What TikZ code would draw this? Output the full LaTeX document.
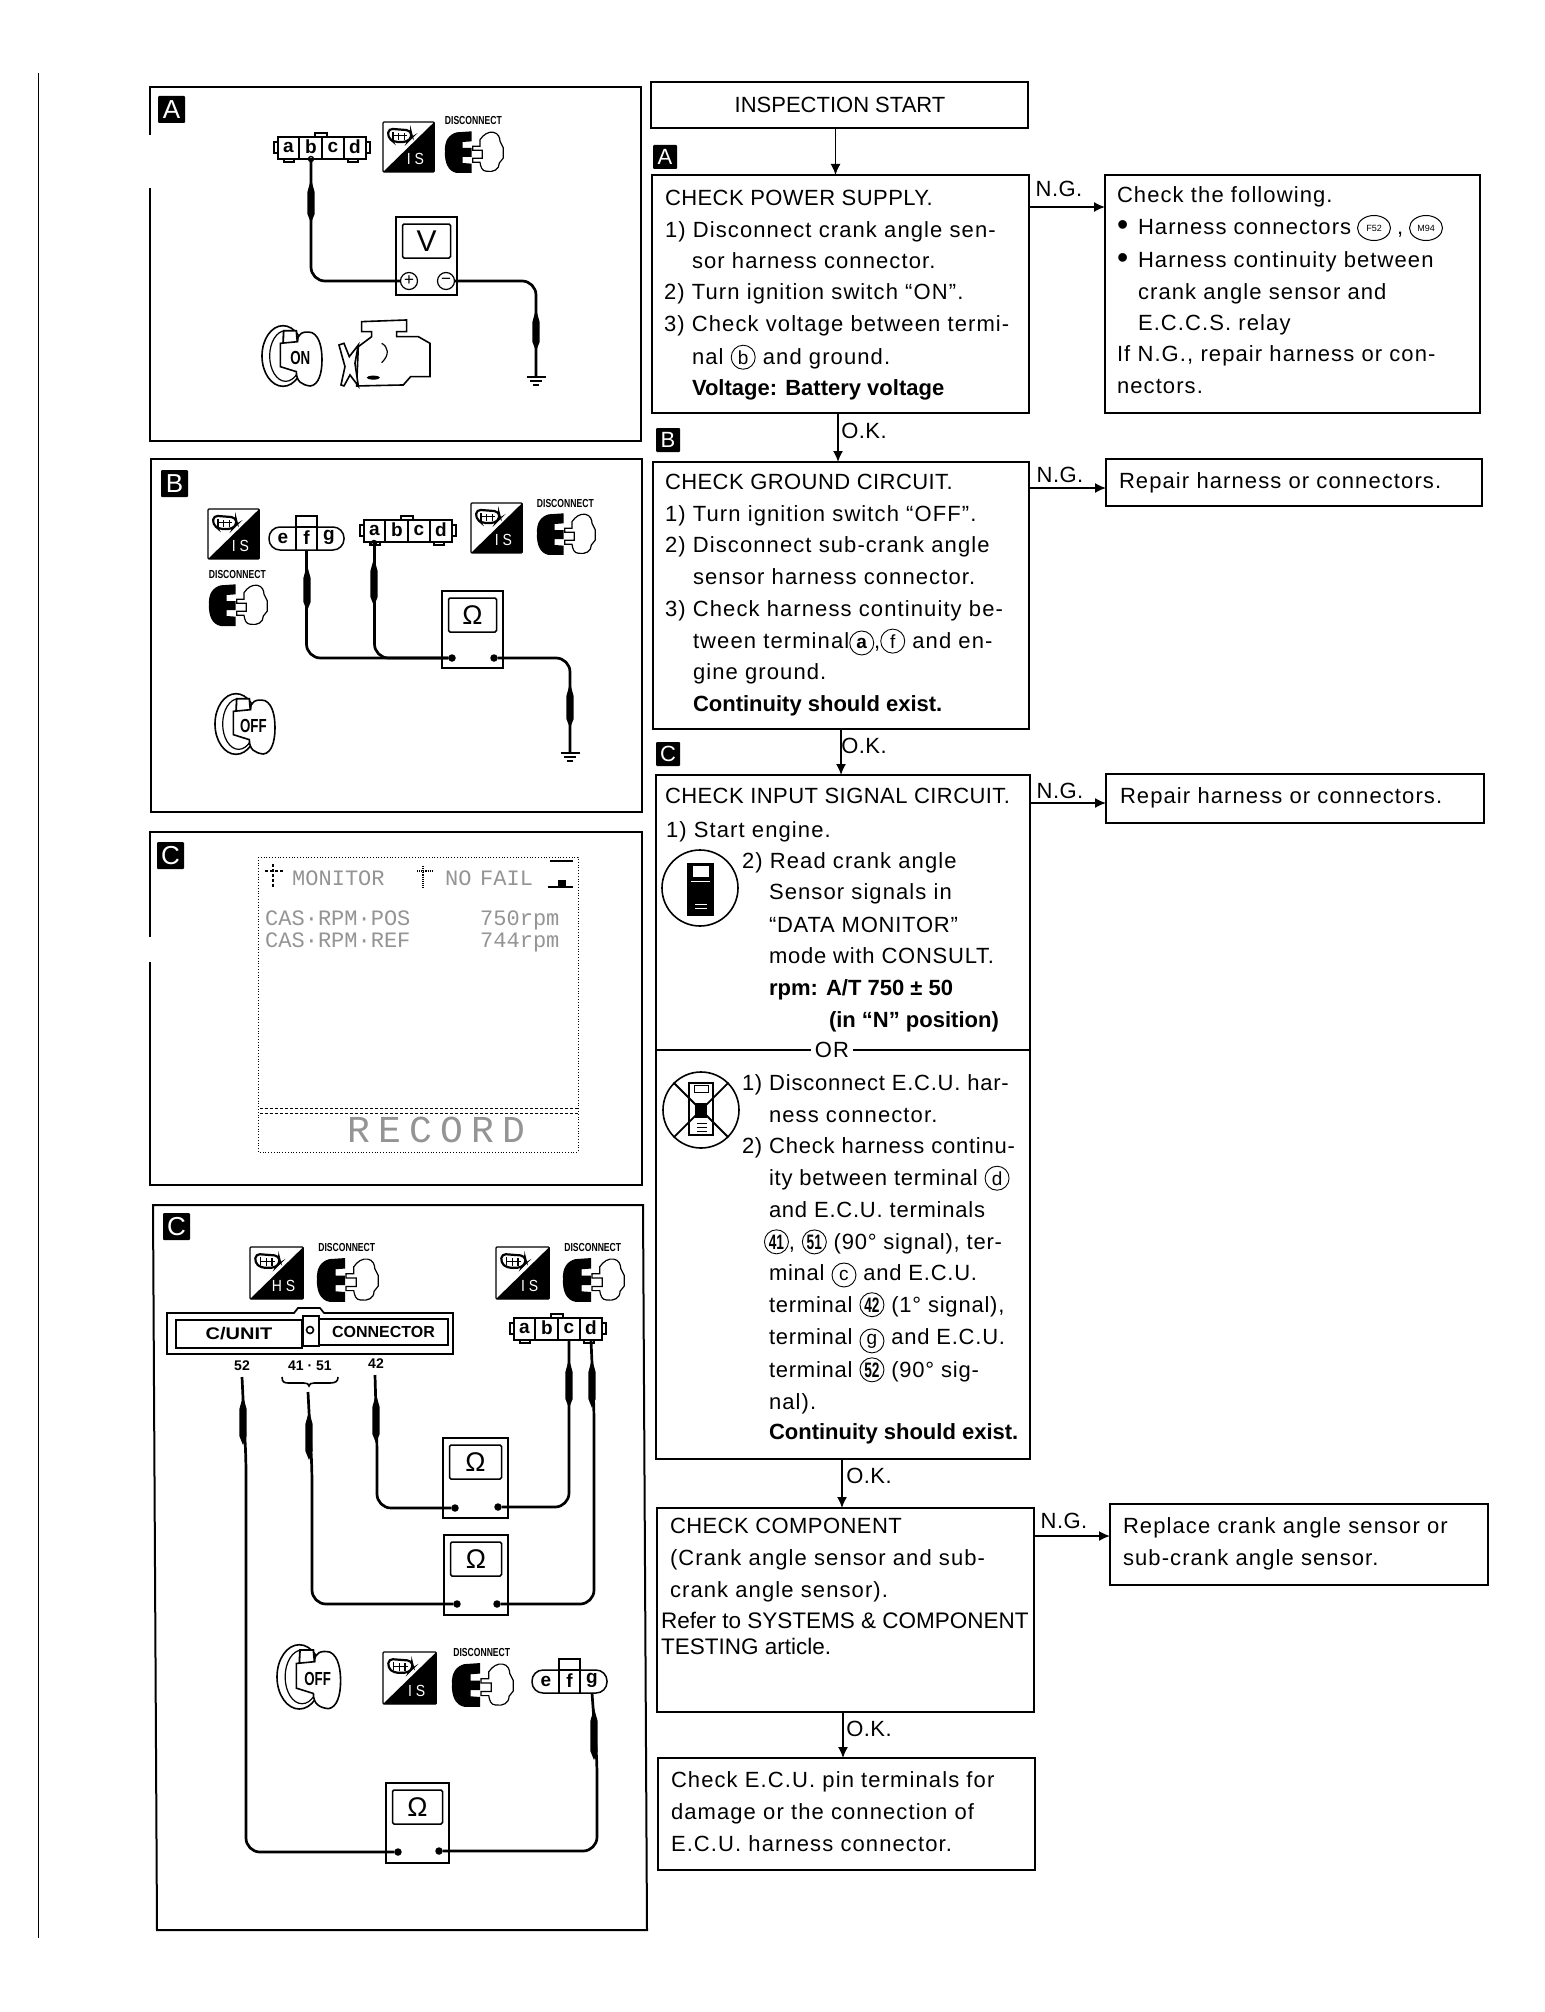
\documentclass[tikz,border=0pt]{standalone}
\usepackage{fontspec}
\setmainfont[LetterSpace=5]{Liberation Sans}
\newfontfamily\plainf{Liberation Sans}
\newfontfamily\capf[LetterSpace=2]{Liberation Sans}
\newfontfamily\midf[LetterSpace=3.5]{Liberation Sans}
\newfontfamily\scrf{Liberation Mono}
\newfontfamily\recf[LetterSpace=22]{Liberation Mono}
\usetikzlibrary{arrows.meta,shapes.geometric}
\newcounter{tlc}
\newcounter{cc}
\newcommand\fs{\fontsize{22}{22}\selectfont}
\newcommand\bfl{\plainf\bfseries}
\tikzset{
  txt/.style={anchor=base west,inner sep=0pt,outer sep=0pt,font=\fs},
  flowbx/.style={draw,line width=1.7pt,anchor=north west,inner sep=0pt,outer sep=0pt},
  arr/.style={line width=1.6pt,-{Latex[length=11pt,width=10pt]}},
  plainln/.style={line width=1.6pt},
  panel/.style={line width=2pt},
  wire/.style={line width=2.7pt,rounded corners=14pt},
  mbox/.style={draw,line width=1.1pt,anchor=north west,inner sep=0pt,outer sep=0pt},
  dispbx/.style={draw,line width=1.5pt,anchor=north west,inner sep=0pt,outer sep=0pt,rounded corners=1.5pt},
  tdot/.style={circle,fill=black,inner sep=0pt,minimum size=7.5pt,outer sep=0pt},
  pm/.style={circle,draw,line width=1.2pt,inner sep=0pt,minimum size=17pt,outer sep=0pt,font=\fontsize{17}{17}\selectfont\plainf},
  lett/.style={inner sep=0pt,outer sep=0pt,font=\fontsize{19}{19}\selectfont\plainf\bfseries},
  tagbx/.style={fill=black,text=white,anchor=north west,inner sep=0pt,outer sep=0pt,rounded corners=1pt,font=\fontsize{26}{26}\selectfont\plainf},
  scr/.style={anchor=base west,inner sep=0pt,text=black!42,font=\scrf\fontsize{22}{22}\selectfont},
  lbl/.style={inner sep=0pt,font=\fontsize{14}{14}\selectfont\plainf\bfseries},
}
% text line
\newcommand\tl[3]{\stepcounter{tlc}\node[txt] (t\arabic{tlc}) at (#1,#2) {#3};}
% circled letter/number in text
\newcommand\cir[1]{\stepcounter{cc}\tikz[baseline=(cir\arabic{cc}.base)]\node[draw,circle,line width=.9pt,inner sep=0pt,outer sep=0pt,minimum size=24pt,font=\fontsize{19}{19}\selectfont\plainf] (cir\arabic{cc}) {#1};}
\newcommand\cirn[1]{\cir{\scalebox{.72}[1.1]{\bfseries #1}}}
% flow box: name x y w h
\newcommand\flowbox[5]{\node[flowbx,minimum width=#4pt,minimum height=#5pt] (#1) at (#2,#3) {};}
% black tag: name x y size letter
\newcommand\tagbox[5]{\node[tagbx,minimum width=#4pt,minimum height=#4pt] (#1) at (#2,#3) {#5};}
% probe body on a wire
\newcommand\probe[3]{\fill[black] ({#1},{#2-9}) -- ({#1+3.6},{#2+4}) -- ({#1+3.6},{#3-4}) -- ({#1},{#3+5}) -- ({#1-3.6},{#3-4}) -- ({#1-3.6},{#2+4}) -- cycle;}
% ground: name x y
\newcommand\ground[3]{\coordinate (#1) at (#2,#3);
  \draw[line width=1.5pt] ({#2-9.5},#3) -- ({#2+9.5},#3);
  \draw[line width=1.5pt] ({#2-6},{#3+4}) -- ({#2+6},{#3+4});
  \draw[line width=1.5pt] ({#2-3},{#3+8}) -- ({#2+3},{#3+8});}
% meter: name x y w h symbol-with-font
\newcommand\meter[6]{\node[mbox,minimum width=#4pt,minimum height=#5pt] (#1) at (#2,#3) {};
  \node[dispbx,minimum width={#4-13},minimum height=34pt,font=\plainf] (#1d) at ({#2+6.5},{#3+7}) {#6};}
% four pin connector: name x y (88x22)
\newcommand\abcd[3]{\begin{scope}[shift={(#2,#3)}]
  \draw[line width=1.4pt,fill=white] (-4,5) rectangle (0,16);
  \draw[line width=1.4pt,fill=white] (88,5) rectangle (92,16);
  \draw[line width=1.3pt,fill=white] (37,-4) rectangle (49,0);
  \draw[line width=1.3pt,fill=white] (6,22) rectangle (16,25);
  \draw[line width=1.3pt,fill=white] (70,22) rectangle (80,25);
  \node[draw,line width=1.5pt,fill=white,minimum width=88pt,minimum height=22pt,anchor=north west,inner sep=0pt,outer sep=0pt] (#1) at (0,0) {};
  \draw[line width=1.3pt] (21,0) -- (21,22) (44,0) -- (44,22) (66,0) -- (66,22);
  \node[lett] (#1a) at (10.5,10) {a};
  \node[lett] (#1b) at (33,10) {b};
  \node[lett] (#1c) at (55,10) {c};
  \node[lett] (#1e) at (77,10) {d};
  \coordinate (#1-a) at (10.5,22); \coordinate (#1-b) at (33,22);
  \coordinate (#1-c) at (55,22); \coordinate (#1-d) at (77,22);
\end{scope}}
% three pin connector: name x y (75x23)
\newcommand\efg[3]{\begin{scope}[shift={(#2,#3)}]
  \draw[line width=1.3pt] (27,0) rectangle (48,-11);
  \node[draw,line width=1.5pt,fill=white,rounded corners=11pt,minimum width=75pt,minimum height=23pt,anchor=north west,inner sep=0pt,outer sep=0pt] (#1) at (0,0) {};
  \draw[line width=1.3pt] (27,0) -- (27,23) (48,0) -- (48,23);
  \node[lett] (#1a) at (14,11) {e};
  \node[lett] (#1b) at (37.5,11) {f};
  \node[lett] (#1c) at (60,10) {g};
  \coordinate (#1-f) at (37.5,23); \coordinate (#1-g) at (60,23);
\end{scope}}
% TS icon: x y scale label
\newcommand\tsicon[4]{\begin{scope}[shift={(#1,#2)},x=0.3333pt,y=-0.3333pt,scale=#3,shift={(-728,-125)}]
  \draw[line width=1.2pt,fill=white,rounded corners=1pt] (728,125) rectangle (882,275);
  \fill[black] (882,125) -- (882,275) -- (728,275) -- cycle;
  \draw[line width=2.2pt,fill=white,rounded corners=4pt] (745,145) -- (810,150) -- (815,170) -- (800,185) -- (760,185) -- (742,170) -- cycle;
  \draw[line width=1.4pt] (758,155) -- (758,178) (775,158) -- (775,180) (792,158) -- (792,180) (758,166) -- (800,166);
  \stepcounter{tlc}
  \node[inner sep=0pt,text=white,font=\fontsize{14}{14}\selectfont\plainf] (t\arabic{tlc}) at (825,237) {\scalebox{1}[1.15]{#4}};
\end{scope}}
% disconnect icon: x y scale
\newcommand\discon[3]{\begin{scope}[shift={(#1,#2)},x=0.3333pt,y=-0.3333pt,scale=#3,shift={(-915,-112)}]
  \stepcounter{tlc}
  \node[inner sep=0pt,font=\fontsize{8.6}{8.6}\selectfont\plainf\bfseries] (t\arabic{tlc}) at (1000,124) {\scalebox{1}[1.35]{DISCONNECT}};
  \fill[black] (995,155) -- (950,158) .. controls (925,165) and (913,185) .. (915,215) .. controls (913,250) and (925,275) .. (950,280) -- (995,280) -- (995,252) -- (968,250) -- (968,232) -- (995,232) -- (995,205) -- (968,205) -- (968,187) -- (995,185) -- cycle;
  \draw[line width=1.2pt,fill=white] (998,200) -- (1020,200) -- (1020,180) .. controls (1030,165) and (1045,155) .. (1060,158) .. controls (1075,160) and (1080,175) .. (1080,185) -- (1090,205) -- (1090,235) -- (1078,250) .. controls (1078,270) and (1060,278) .. (1040,275) .. controls (1025,275) and (1022,260) .. (1020,248) -- (998,248) -- (998,236) -- (1027,236) -- (1027,212) -- (998,212) -- cycle;
\end{scope}}
% key icon: x y scale label
\newcommand\keyicon[4]{\begin{scope}[shift={(#1,#2)},x=0.3333pt,y=-0.3333pt,scale=#3,shift={(-365,-735)}]
  \draw[line width=1.6pt,fill=white] (428,828) ellipse [x radius=63,y radius=91];
  \draw[line width=1.2pt] (436,828) ellipse [x radius=48,y radius=76];
  \draw[line width=1.8pt,fill=white] (430,752) -- (468,752) -- (472,795) -- (428,795) -- cycle;
  \draw[line width=1.6pt,fill=white] (420,790) -- (472,785) .. controls (470,760) and (490,752) .. (515,758) .. controls (540,770) and (545,810) .. (545,840) .. controls (545,880) and (535,915) .. (510,918) .. controls (485,915) and (468,905) .. (468,875) -- (420,860) -- cycle;
  \stepcounter{tlc}
  \node[inner sep=0pt,font=\fontsize{14}{14}\selectfont\plainf\bfseries] (t\arabic{tlc}) at (480,835) {\scalebox{.95}[1.35]{#4}};
\end{scope}}
\begin{document}
\begin{tikzpicture}[x=1pt,y=-1pt]
\useasboundingbox (0,0) rectangle (1544,2012);
\fill[white] (0,0) rectangle (1544,2012);
% page rule
\draw[line width=1.2pt] (38.5,73) -- (38.5,1938);

% ---------- Panel frames
\draw[panel] (150,135) -- (150,87) -- (641,87) -- (641,441) -- (150,441) -- (150,188);
\draw[panel] (151,459) rectangle (642,812);
\draw[panel] (150,937) -- (150,832) -- (642,832) -- (642,1185) -- (150,1185) -- (150,962);
\draw[panel] (153,1205) -- (643,1205) -- (647,1930) -- (157,1930) -- cycle;

\tagbox{pA}{158}{96}{27}{A}
\tagbox{pB}{161}{470}{27}{B}
\tagbox{pC}{157}{842}{27}{C}
\tagbox{pD}{163}{1213}{27}{C}

% ---------- Panel A
\abcd{ca}{278}{137}
\tsicon{383}{122}{1}{I S}
\discon{445}{117}{1}
\meter{ma}{396}{217}{61}{78}{\fontsize{30}{30}\selectfont V}
\node[pm] (ma-p) at (409,281) {+};
\node[pm] (ma-n) at (446,281) {−};
\ground{ga}{536}{377}
\draw[wire] (ca-b) |- (ma-p.west);
\draw[wire] (ma-n.east) -| (ga);
\probe{311}{188}{218}
\probe{536}{318}{346}
\draw[line width=1.4pt] (311,159) circle (2.5);
\keyicon{262}{325}{1}{ON}
% engine
\begin{scope}[shift={(140,80)},x=0.3333pt,y=-0.3333pt]
  \draw[line width=1.6pt,fill=white] (665,725) -- (800,720) -- (800,755) -- (770,755) -- (770,770) -- (835,770) -- (870,790) -- (870,890) -- (812,890) -- (790,915) -- (650,918) -- (655,800) -- (695,770) -- (695,755) -- (665,755) -- cycle;
  \draw[line width=1.6pt,fill=white] (597,795) -- (612,790) -- (628,830) -- (655,795) -- (645,850) -- (655,918) -- (630,885) -- (612,918) -- (603,915) -- (615,860) -- cycle;
  \fill[black] (700,893) ellipse [x radius=20,y radius=6];
  \draw[line width=1.2pt] (725,790) .. controls (745,800) and (750,825) .. (725,848);
\end{scope}

% ---------- Panel B
\tsicon{208}{509}{1}{I S}
\efg{cb}{269}{527}
\abcd{cc}{364}{520}
\tsicon{471}{503}{1}{I S}
\discon{537}{499}{1}
\discon{209}{570}{1}
\meter{mb}{442}{591}{61}{77}{\fontsize{27}{27}\selectfont Ω}
\node[tdot] (mb-l) at (452,658) {};
\node[tdot] (mb-r) at (494,658) {};
\ground{gb}{570}{753}
\draw[wire] (cb-f) |- (mb-l);
\draw[wire] (cc-a) |- (mb-l);
\draw[wire] (mb-r) -| (gb);
\probe{307}{574}{606}
\probe{374}{567}{601}
\probe{570}{692}{723}
\draw[line width=1.4pt] (374,543) circle (2.5);
\keyicon{215}{693}{1}{OFF}

% ---------- Panel C screen
\draw[dotted,line width=.8pt] (258,857) rectangle (578,1152);
\draw[densely dashed,line width=.9pt] (260,1108) -- (579,1108) (260,1113) -- (579,1113);
\node[scr] (s1) at (292,885) {MONITOR};
\node[scr] (s2) at (445,885) {NO};
\node[scr] (s3) at (480,885) {FAIL};
\node[scr] (s4) at (265,925) {CAS·RPM·POS};
\node[scr] (s5) at (480,925) {750rpm};
\node[scr] (s6) at (265,947) {CAS·RPM·REF};
\node[scr] (s7) at (480,947) {744rpm};
\node[scr,font=\recf\fontsize{38}{38}\selectfont] (s8) at (347,1142) {RECORD};
\draw[line width=1.3pt,densely dashed] (265,871) -- (284,871) (273,864) -- (273,888);
\draw[line width=1.1pt,densely dotted] (417,871) -- (432,871) (423,866) -- (423,888);
\draw[line width=1.5pt] (550,861) -- (573,861) (548,887) -- (573,887);
\fill[black] (558,880) rectangle (566,886);

% ---------- Panel C wiring
\tsicon{250}{1247}{1.04}{H S}
\discon{317}{1243}{1.05}
\tsicon{496}{1247}{1.04}{I S}
\discon{563}{1243}{1.05}
% C/UNIT connector
\draw[line width=1.7pt,fill=white] (167,1313) -- (294,1313) -- (298,1308) -- (320,1308) -- (324,1313) -- (453,1313) -- (453,1354) -- (167,1354) -- cycle;
\node[draw,line width=2pt,anchor=north west,inner sep=0pt,minimum width=126pt,minimum height=28pt,font=\fontsize{16}{16}\selectfont\plainf\bfseries] (cul) at (175,1319) {\scalebox{1.25}[1.05]{C/UNIT}};
\node[draw,line width=2pt,anchor=north west,inner sep=0pt,minimum width=129pt,minimum height=26pt,font=\fontsize{16}{16}\selectfont\plainf\bfseries] (cur) at (318,1318) {CONNECTOR};
\node[draw,line width=1.6pt,anchor=north west,inner sep=0pt,minimum width=16pt,minimum height=30pt] (cuc) at (302,1315) {};
\node[draw,circle,line width=1.6pt,inner sep=0pt,minimum size=7pt] (cuo) at (310,1330) {};
\node[lbl] (l52) at (242,1366) {52};
\node[lbl] (l41) at (310,1366) {41 · 51};
\node[lbl] (l42) at (376,1364) {42};
\draw[line width=1.6pt] (282,1377) .. controls (282,1383) and (285,1383) .. (290,1383) -- (304,1383) .. controls (307,1383) and (309,1384) .. (309,1386) .. controls (309,1384) and (311,1383) .. (314,1383) -- (330,1383) .. controls (336,1383) and (338,1381) .. (338,1377);
\abcd{cd}{514}{1318}
\meter{mc}{443}{1438}{65}{80}{\fontsize{27}{27}\selectfont Ω}
\meter{md}{444}{1535}{64}{80}{\fontsize{27}{27}\selectfont Ω}
\meter{me}{386}{1783}{63}{80}{\fontsize{27}{27}\selectfont Ω}
\node[tdot] (mc-l) at (455,1508) {};
\node[tdot] (mc-r) at (498,1507) {};
\node[tdot] (md-l) at (457,1604) {};
\node[tdot] (md-r) at (497,1604) {};
\node[tdot] (me-l) at (398,1852) {};
\node[tdot] (me-r) at (439,1851) {};
\coordinate (tip52) at (242,1377);
\coordinate (tip41) at (308,1392);
\coordinate (tip42) at (375,1375);
\coordinate (bend52) at (246,1460);
\coordinate (bend41) at (312,1470);
\coordinate (bend42) at (377,1445);
\coordinate (bendd) at (594,1410);
\coordinate (bendg) at (597,1762);
\draw[wire] (tip52) -- (bend52) |- (me-l);
\draw[wire] (tip41) -- (bend41) |- (md-l);
\draw[wire] (tip42) -- (bend42) |- (mc-l);
\draw[wire] (cd-c) |- (mc-r);
\draw[wire] (cd-d) -- (bendd) |- (md-r);
\probe{243}{1405}{1440}
\probe{309}{1420}{1455}
\probe{376}{1403}{1438}
\probe{569}{1368}{1403}
\probe{592}{1368}{1403}
\keyicon{277}{1644}{1.06}{OFF}
\tsicon{383}{1652}{1.04}{I S}
\discon{452}{1648}{1.05}
\efg{ce}{532}{1670}
\draw[wire] (ce-g) -- (bendg) |- (me-r);
\probe{594}{1717}{1755}

% ---------- Flow chart
\flowbox{start}{651}{82}{377}{46}
\node[font=\fontsize{22}{22}\selectfont\plainf,inner sep=0pt] (startt) at (840,105) {INSPECTION START};
\flowbox{boxa}{652}{175}{377}{238}
\flowbox{nga}{1105}{175}{375}{238}
\flowbox{boxb}{653}{462}{376}{267}
\flowbox{ngb}{1106}{459}{376}{47}
\flowbox{boxc}{656}{775}{374}{684}
\flowbox{ngc}{1106}{774}{378}{49}
\flowbox{boxd}{657}{1508}{377}{204}
\flowbox{ngd}{1110}{1504}{378}{81}
\flowbox{boxe}{658}{1758}{377}{112}

\tagbox{ta}{653}{145}{24}{\fontsize{22}{22}\selectfont A}
\tagbox{tb}{656}{428}{24}{\fontsize{22}{22}\selectfont B}
\tagbox{tc}{656}{742}{24}{\fontsize{22}{22}\selectfont C}

\draw[arr] ([xshift=-4pt]start.south) -- ([xshift=-5pt]boxa.north);
\draw[arr] ([xshift=-2.5pt]boxa.south) -- ([xshift=-3pt]boxb.north);
\draw[arr] (boxb.south) -- ([xshift=-2pt]boxc.north);
\draw[arr] ([xshift=-1pt]boxc.south) -- ([xshift=-3.5pt]boxd.north);
\draw[arr] ([xshift=-2.5pt]boxd.south) -- ([xshift=-3.5pt]boxe.north);
\draw[arr] ([yshift=87pt]boxa.east) -- ([yshift=87pt]nga.west);
\draw[arr] ([yshift=107.5pt]boxb.east) -- ([yshift=-5.5pt]ngb.west);
\draw[arr] ([yshift=314pt]boxc.east) -- ([yshift=-4.5pt]ngc.west);
\draw[arr] ([yshift=74pt]boxd.east) -- ([yshift=8.5pt]ngd.west);

\node[txt,anchor=center] (ng1) at (1059,189) {\capf N.G.};
\node[txt,anchor=center] (ng2) at (1060,475) {\capf N.G.};
\node[txt,anchor=center] (ng3) at (1060,791) {\capf N.G.};
\node[txt,anchor=center] (ng4) at (1064,1521) {\capf N.G.};
\node[txt,anchor=center] (ok1) at (864,431) {\capf O.K.};
\node[txt,anchor=center] (ok2) at (864,746) {\capf O.K.};
\node[txt,anchor=center] (ok3) at (869,1476) {\capf O.K.};
\node[txt,anchor=center] (ok4) at (869,1729) {\capf O.K.};

% box A text
\tl{665}{205}{\capf CHECK POWER SUPPLY.}
\tl{665}{237}{1) Disconnect crank angle sen-}
\tl{692}{268}{sor harness connector.}
\tl{664}{299}{2) Turn ignition switch “ON”.}
\tl{664}{331}{3) Check voltage between termi-}
\tl{692}{364}{nal \cir{b} and ground.}
\tl{692}{395}{\bfl Voltage: Battery voltage}
% NG A text
\tl{1117}{203}{Check the following.}
\tl{1117}{234}{\makebox[21pt][l]{\raisebox{-1pt}{\fontsize{32}{32}\selectfont\plainf •}}Harness connectors}
\node[draw,ellipse,line width=1pt,inner sep=0pt,minimum width=33pt,minimum height=25pt,font=\fontsize{9}{9}\selectfont\plainf] (f52) at (1374,228) {F52};
\tl{1397}{234}{,}
\node[draw,ellipse,line width=1pt,inner sep=0pt,minimum width=33pt,minimum height=25pt,font=\fontsize{9}{9}\selectfont\plainf] (m94) at (1426,228) {M94};
\tl{1117}{267}{\makebox[21pt][l]{\raisebox{-1pt}{\fontsize{32}{32}\selectfont\plainf •}}Harness continuity between}
\tl{1138}{299}{crank angle sensor and}
\tl{1138}{330}{E.C.C.S. relay}
\tl{1117}{361}{If N.G., repair harness or con-}
\tl{1117}{393}{nectors.}
% box B text
\tl{665}{489}{\capf CHECK GROUND CIRCUIT.}
\tl{665}{521}{1) Turn ignition switch “OFF”.}
\tl{665}{552}{2) Disconnect sub-crank angle}
\tl{693}{584}{sensor harness connector.}
\tl{665}{616}{3) Check harness continuity be-}
\tl{693}{648}{tween terminal\cir{\bfseries a},\cir{f} and en-}
\tl{693}{679}{gine ground.}
\tl{693}{711}{\bfl Continuity should exist.}
\tl{1119}{488}{Repair harness or connectors.}
% box C text
\tl{665}{803}{\capf CHECK INPUT SIGNAL CIRCUIT.}
\tl{666}{837}{1) Start engine.}
\tl{742}{868}{2) Read crank angle}
\tl{769}{899}{Sensor signals in}
\tl{769}{932}{\midf “DATA MONITOR”}
\tl{769}{963}{\midf mode with CONSULT.}
\tl{769}{995}{\bfl rpm: A/T 750 ± 50}
\tl{829}{1027}{\bfl (in “N” position)}
\tl{1120}{803}{Repair harness or connectors.}
\draw[plainln] (boxc.west |- 0,1050) -- (boxc.east |- 0,1050);
\node[fill=white,inner sep=0pt,minimum width=42pt,minimum height=20pt,font=\fs] (orn) at (832,1050) {OR};
% consult icon
\node[draw,circle,line width=1.6pt,minimum size=76pt,inner sep=0pt] (cons) at (700,888) {};
\draw[line width=1.2pt,fill=black] (688,864) rectangle (713,915);
\fill[white] (693,866) rectangle (709,877);
\draw[white,line width=1pt] (691,881) -- (710,881);
\draw[white,line width=1pt] (695,904) -- (707,904) (695,908) -- (707,908);
\node[draw,circle,line width=1.6pt,minimum size=76pt,inner sep=0pt] (ecu) at (701,1110) {};
\draw[line width=1.2pt,fill=white] (689,1083) rectangle (713,1135);
\draw[line width=1pt] (694,1085) rectangle (708,1092);
\fill[black] (695,1103) rectangle (707,1118);
\draw[line width=1pt] (697,1123) -- (707,1123) (697,1127) -- (707,1127) (697,1131) -- (707,1131);
\draw[line width=1.8pt] (ecu.135) -- (ecu.315) (ecu.45) -- (ecu.225);
\tl{742}{1090}{\midf 1) Disconnect E.C.U. har-}
\tl{769}{1122}{ness connector.}
\tl{742}{1153}{\midf 2) Check harness continu-}
\tl{769}{1185}{\midf ity between terminal \cir{d}}
\tl{769}{1217}{\midf and E.C.U. terminals}
\tl{764}{1249}{\midf\cirn{41}, \cirn{51} (90° signal), ter-}
\tl{769}{1280}{\midf minal \cir{c} and E.C.U.}
\tl{769}{1312}{\midf terminal \cirn{42} (1° signal),}
\tl{769}{1344}{\midf terminal \cir{g} and E.C.U.}
\tl{769}{1377}{\midf terminal \cirn{52} (90° sig-}
\tl{769}{1409}{nal).}
\tl{769}{1439}{\bfl Continuity should exist.}
% component
\tl{670}{1533}{\capf CHECK COMPONENT}
\tl{670}{1565}{(Crank angle sensor and sub-}
\tl{670}{1597}{crank angle sensor).}
\tl{661}{1628}{\fontsize{22.5}{22.5}\selectfont\plainf Refer to SYSTEMS \& COMPONENT}
\tl{661}{1654}{\fontsize{22.5}{22.5}\selectfont\plainf TESTING article.}
\tl{1123}{1533}{Replace crank angle sensor or}
\tl{1123}{1565}{sub-crank angle sensor.}
\tl{671}{1787}{Check E.C.U. pin terminals for}
\tl{671}{1819}{damage or the connection of}
\tl{671}{1851}{E.C.U. harness connector.}
\end{tikzpicture}
\end{document}
